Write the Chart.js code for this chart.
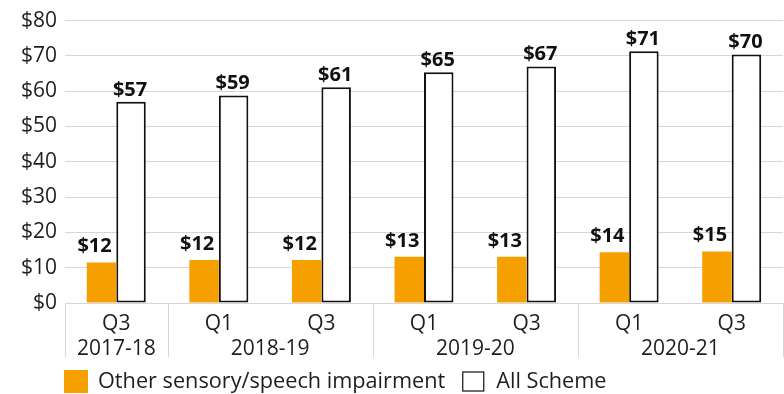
<!DOCTYPE html>
<html>
<head>
<meta charset="utf-8">
<script src="https://cdn.jsdelivr.net/npm/chart.js@4/dist/chart.umd.min.js"></script>
<style>
  html, body { margin: 0; padding: 0; background: #ffffff; }
  #wrap { position: relative; width: 784px; height: 394px; }
</style>
</head>
<body>
<div id="wrap"><canvas id="chart" width="784" height="394"></canvas></div>
<script>
// Quarters shown on the axis, and the financial year each belongs to
const quarters = ['Q3', 'Q1', 'Q3', 'Q1', 'Q3', 'Q1', 'Q3'];
const years = ['2017-18', '2018-19', '2018-19', '2019-20', '2019-20', '2020-21', '2020-21'];

// Average payment per participant, in dollars
const sensorySpeech = [11.5, 12.2, 12.2, 13.1, 13.1, 14.4, 14.6];
const allScheme = [57.0, 58.8, 61.1, 65.4, 67.0, 71.3, 70.4];

const yTicks = [0, 10, 20, 30, 40, 50, 60, 70, 80];

const FONT = '"Open Sans", "DejaVu Sans", sans-serif';
const TEXT = '#1e1e1e';
const ORANGE = '#f6a000';
const GRID = '#d6d6d6';

// Value labels above each bar
const valueLabels = {
  id: 'valueLabels',
  afterDatasetsDraw(chart) {
    const ctx = chart.ctx;
    ctx.save();
    ctx.font = 'bold 20px ' + FONT;
    ctx.fillStyle = '#111';
    ctx.textAlign = 'center';
    ctx.textBaseline = 'alphabetic';
    chart.data.datasets.forEach((ds, di) => {
      const meta = chart.getDatasetMeta(di);
      meta.data.forEach((bar, i) => {
        const txt = '$' + Math.round(ds.data[i]);
        const dx = di === 0 ? -7 : -1;
        const gap = di === 0 ? 10 : 6;
        ctx.fillText(txt, bar.x + dx, bar.y - gap);
      });
    });
    ctx.restore();
  }
};

// Financial-year row under the quarters, with group separators
const yearAxis = {
  id: 'yearAxis',
  afterDraw(chart) {
    const ctx = chart.ctx;
    const xs = chart.scales.x;
    const area = chart.chartArea;
    const n = years.length;
    const half = (xs.getPixelForValue(1) - xs.getPixelForValue(0)) / 2;
    ctx.save();
    ctx.strokeStyle = GRID;
    ctx.lineWidth = 1;
    // group boundaries
    const groups = [];
    let start = 0;
    for (let i = 1; i <= n; i++) {
      if (i === n || years[i] !== years[start]) {
        groups.push([start, i - 1]);
        start = i;
      }
    }
    const sepBottom = area.bottom + 54;
    const drawSep = (x) => {
      ctx.beginPath();
      ctx.moveTo(Math.round(x) + 0.5, area.bottom);
      ctx.lineTo(Math.round(x) + 0.5, sepBottom);
      ctx.stroke();
    };
    drawSep(xs.getPixelForValue(0) - half);
    groups.forEach(g => drawSep(xs.getPixelForValue(g[1]) + half));
    ctx.font = '21px ' + FONT;
    ctx.fillStyle = TEXT;
    ctx.textAlign = 'center';
    ctx.textBaseline = 'middle';
    groups.forEach(g => {
      const cx = (xs.getPixelForValue(g[0]) + xs.getPixelForValue(g[1])) / 2;
      ctx.fillText(years[g[0]], cx, area.bottom + 46);
    });
    ctx.restore();
  }
};

// Legend row along the bottom
const bottomLegend = {
  id: 'bottomLegend',
  afterDraw(chart) {
    const ctx = chart.ctx;
    const area = chart.chartArea;
    ctx.save();
    ctx.font = '21.7px ' + FONT;
    ctx.textBaseline = 'middle';
    ctx.textAlign = 'left';
    let x = area.left - 1;
    const cy = 381.5;
    chart.data.datasets.forEach((ds, i) => {
      if (i === 0) {
        ctx.fillStyle = ds.backgroundColor;
        ctx.fillRect(x, cy - 11.5, 24, 23);
      } else {
        ctx.fillStyle = '#fff';
        ctx.fillRect(x, cy - 10, 22, 20);
        ctx.strokeStyle = '#222';
        ctx.lineWidth = 1.3;
        ctx.strokeRect(x + 0.5, cy - 9.5, 21, 19);
      }
      ctx.fillStyle = TEXT;
      const tx = x + 34;
      ctx.fillText(ds.label, tx, cy);
      x = tx + ctx.measureText(ds.label).width + 17;
    });
    ctx.restore();
  }
};

new Chart(document.getElementById('chart'), {
  type: 'bar',
  data: {
    labels: quarters,
    datasets: [
      {
        label: 'Other sensory/speech impairment',
        data: sensorySpeech,
        backgroundColor: ORANGE,
        borderWidth: 0,
        categoryPercentage: 0.575,
        barPercentage: 1.0
      },
      {
        label: 'All Scheme',
        data: allScheme,
        backgroundColor: '#ffffff',
        borderColor: '#111111',
        borderWidth: 2,
        borderSkipped: false,
        categoryPercentage: 0.575,
        barPercentage: 1.0
      }
    ]
  },
  options: {
    responsive: false,
    animation: false,
    layout: { padding: { top: 19, right: 1, left: 0, bottom: 0 } },
    plugins: {
      legend: { display: false },
      tooltip: { enabled: false }
    },
    scales: {
      x: {
        grid: { display: false },
        border: { display: false },
        ticks: {
          color: TEXT,
          font: { family: FONT, size: 21 },
          padding: 0,
          maxRotation: 0
        },
        afterFit(scale) { scale.height = 91; }
      },
      y: {
        min: 0,
        max: 80,
        afterBuildTicks(scale) { scale.ticks = yTicks.map(v => ({ value: v })); },
        grid: { color: GRID, lineWidth: 1, drawTicks: false },
        border: { display: false },
        ticks: {
          color: TEXT,
          font: { family: FONT, size: 21 },
          padding: 8,
          callback: v => '$' + v
        },
        afterFit(scale) { scale.width = 65; }
      }
    }
  },
  plugins: [valueLabels, yearAxis, bottomLegend]
});
</script>
</body>
</html>
